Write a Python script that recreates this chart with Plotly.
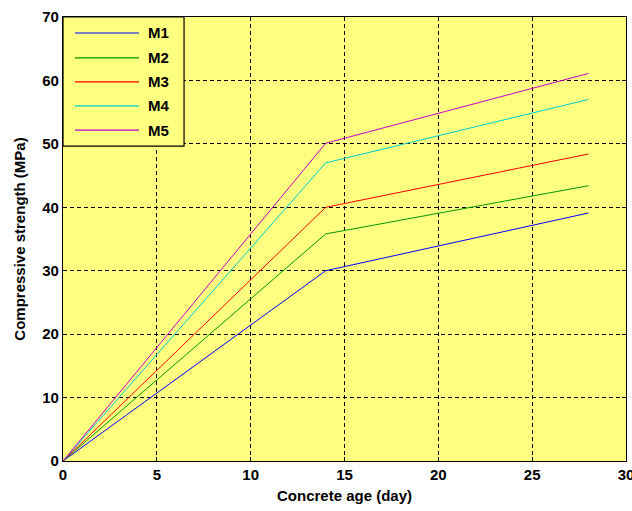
import plotly.graph_objects as go

ages = [0, 14, 28]
series_names = ["M1", "M2", "M3", "M4", "M5"]
m1 = [0, 30.0, 39.1]
m2 = [0, 35.8, 43.4]
m3 = [0, 40.0, 48.4]
m4 = [0, 47.0, 57.0]
m5 = [0, 50.1, 61.1]
series_values = [m1, m2, m3, m4, m5]
colors = ["#0000ff", "#009900", "#ff0000", "#00cccc", "#cc00cc"]
x_ticks = [0, 5, 10, 15, 20, 25, 30]
y_ticks = [0, 10, 20, 30, 40, 50, 60, 70]

font_fam = "Liberation Sans, Arial, sans-serif"
fig = go.Figure()
for name, vals, c in zip(series_names, series_values, colors):
    fig.add_trace(go.Scatter(x=ages, y=vals, mode="lines", name=name,
                             line=dict(color=c, width=1), showlegend=False))

# custom legend
shapes = [dict(type="rect", xref="x domain", yref="y domain", x0=0, x1=0.215,
               y0=0.709, y1=1, line=dict(color="black", width=1.2), fillcolor="#ffff80", layer="above")]
ann = []
ly = [0.964, 0.908, 0.854, 0.80, 0.745]
for name, c, yy in zip(series_names, colors, ly):
    shapes.append(dict(type="line", xref="x domain", yref="y domain", x0=0.0213, x1=0.135,
                       y0=yy, y1=yy, line=dict(color=c, width=1.2), layer="above"))
    ann.append(dict(xref="x domain", yref="y domain", x=0.147, y=yy, text="<b>%s</b>" % name,
                    showarrow=False, xanchor="left", yanchor="middle",
                    font=dict(family=font_fam, size=15, color="black")))

axis_common = dict(showgrid=True, gridcolor="black", griddash="4px,3px", gridwidth=1,
                   showline=True, linecolor="black", linewidth=1.2, mirror="ticks",
                   ticks="inside", ticklen=4, tickcolor="black", zeroline=False,
                   ticklabeloverflow="allow", automargin=False,
                   tickfont=dict(family=font_fam, size=15, color="black"))
fig.update_xaxes(range=[0, 30], tickvals=x_ticks, ticktext=["<b>%d</b>" % v for v in x_ticks],
                 title=dict(text="<b>Concrete age (day)</b>", font=dict(family=font_fam, size=15, color="black"), standoff=8),
                 **axis_common)
fig.update_yaxes(range=[0, 70], tickvals=y_ticks, ticktext=["<b>%d</b>" % v for v in y_ticks],
                 title=dict(text="<b>Compressive strength (MPa)</b>", font=dict(family=font_fam, size=15, color="black"), standoff=12),
                 **axis_common)
fig.update_layout(width=632, height=511, margin=dict(l=63, r=6, t=17, b=50, autoexpand=False),
                  paper_bgcolor="white", plot_bgcolor="#ffff80",
                  shapes=shapes, annotations=ann, showlegend=False)
fig.write_html("out.html")
